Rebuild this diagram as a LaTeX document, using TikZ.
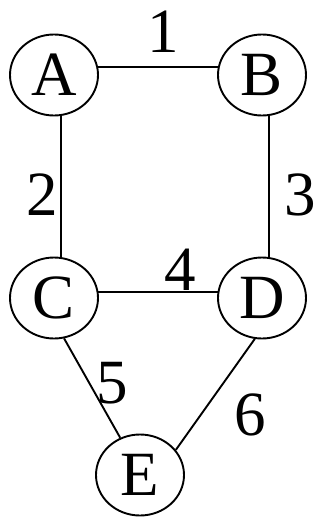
\documentclass[tikz,border=0pt]{standalone}
\usepackage{fontspec}
\setmainfont{Liberation Serif}
\usetikzlibrary{shapes.geometric}
\begin{document}
\begin{tikzpicture}[x=1pt,y=-1pt,
  vert/.style={draw, ellipse, line width=1.9pt, minimum width=88pt, minimum height=81pt, inner sep=0pt, font=\fontsize{63}{63}\selectfont},
  wlab/.style={font=\fontsize{63}{63}\selectfont, inner sep=0pt},
  edge/.style={line width=1.9pt}]
\useasboundingbox (0,0) rectangle (320,517);
\node[vert] (A) at (54,75) {A};
\node[vert] (B) at (262,75) {B};
\node[vert] (C) at (54,298) {C};
\node[vert] (D) at (262,298) {D};
\node[vert] (E) at (140,475) {E};
\draw[edge] (A.10) -- (B.170);
\draw[edge] (A.-80) -- (C.80);
\draw[edge] (B.-80) -- (D.80);
\draw[edge] (C.8) -- (D.172);
\draw[edge] (C.-76) -- (E.118);
\draw[edge] (D.-100) -- (E.35);
\node[wlab] (l1) at (163,32) {1};
\node[wlab] (l2) at (42,195) {2};
\node[wlab] (l3) at (300,195) {3};
\node[wlab] (l4) at (180,270) {4};
\node[wlab] (l5) at (112,383) {5};
\node[wlab] (l6) at (250,415) {6};
\end{tikzpicture}
\end{document}
